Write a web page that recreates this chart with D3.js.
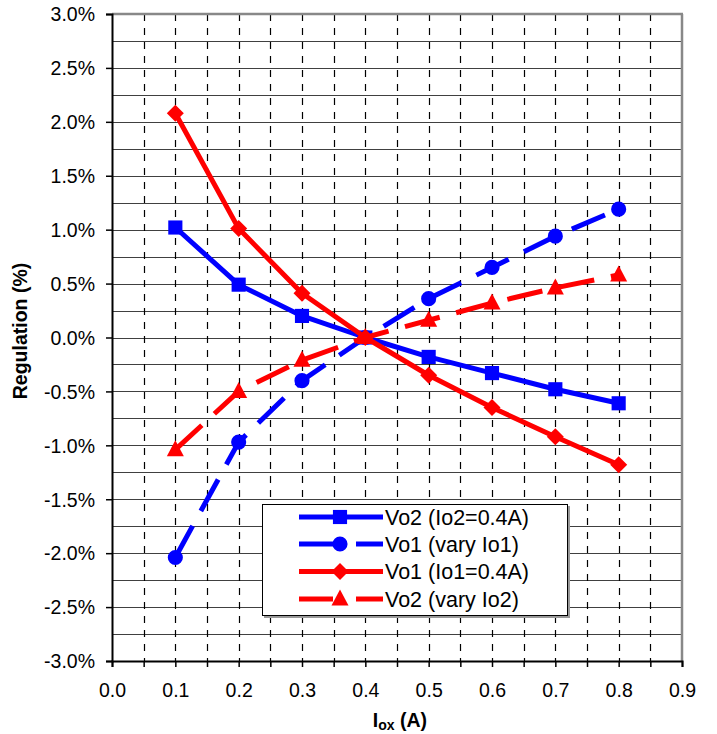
<!DOCTYPE html>
<html>
<head>
<meta charset="utf-8">
<script src="https://cdn.jsdelivr.net/npm/d3@7/dist/d3.min.js"></script>
<style>
  html, body { margin: 0; padding: 0; background: #fff; }
  svg { display: block; font-family: "Liberation Sans", Arial, sans-serif; }
</style>
</head>
<body>
<svg id="chart" width="717" height="734"></svg>
<script>
// Load current (A) on the x axis
const loadCurrents = [0.1, 0.2, 0.3, 0.4, 0.5, 0.6, 0.7, 0.8];

// Regulation (%) for each series
const vo2FixedIo2 = [1.02, 0.49, 0.20, 0.00, -0.18, -0.33, -0.48, -0.61];
const vo1VaryIo1  = [-2.04, -0.97, -0.40, 0.00, 0.36, 0.65, 0.94, 1.19];
const vo1FixedIo1 = [2.08, 1.01, 0.41, 0.00, -0.35, -0.65, -0.92, -1.18];
const vo2VaryIo2  = [-1.04, -0.50, -0.21, 0.00, 0.16, 0.32, 0.46, 0.58];

const seriesNames = ["Vo2 (Io2=0.4A)", "Vo1 (vary Io1)", "Vo1 (Io1=0.4A)", "Vo2 (vary Io2)"];

// Axis ticks
const xTickValues = [0, 0.1, 0.2, 0.3, 0.4, 0.5, 0.6, 0.7, 0.8, 0.9];
const xTickLabels = ["0.0", "0.1", "0.2", "0.3", "0.4", "0.5", "0.6", "0.7", "0.8", "0.9"];
const yTickValues = [3, 2.5, 2, 1.5, 1, 0.5, 0, -0.5, -1, -1.5, -2, -2.5, -3];
const yTickLabels = ["3.0%", "2.5%", "2.0%", "1.5%", "1.0%", "0.5%", "0.0%",
                     "-0.5%", "-1.0%", "-1.5%", "-2.0%", "-2.5%", "-3.0%"];

const series = [
  { name: seriesNames[0], values: vo2FixedIo2, color: "#0000ff", dashed: false, marker: "square" },
  { name: seriesNames[1], values: vo1VaryIo1,  color: "#0000ff", dashed: true,  marker: "circle" },
  { name: seriesNames[2], values: vo1FixedIo1, color: "#ff0000", dashed: false, marker: "diamond" },
  { name: seriesNames[3], values: vo2VaryIo2,  color: "#ff0000", dashed: true,  marker: "triangle" }
];

const plot = { left: 112, right: 682, top: 14, bottom: 661 };

const svg = d3.select("#chart");
const x = d3.scaleLinear().domain([0, 0.9]).range([plot.left, plot.right]);
const y = d3.scaleLinear().domain([-3, 3]).range([plot.bottom, plot.top]);

// Horizontal solid gridlines every 0.25 %
const hGrid = d3.range(-2.75, 3.01, 0.25);
svg.append("g").selectAll("line").data(hGrid).join("line")
  .attr("x1", plot.left).attr("x2", plot.right)
  .attr("y1", d => Math.round(y(d)) + 0.5).attr("y2", d => Math.round(y(d)) + 0.5)
  .attr("stroke", "#404040").attr("stroke-width", 1.2);

// Vertical dashed gridlines every 0.05 A
const vGrid = d3.range(1, 18).map(i => i * 0.05);
svg.append("g").selectAll("line").data(vGrid).join("line")
  .attr("x1", d => Math.round(x(d)) + 0.5).attr("x2", d => Math.round(x(d)) + 0.5)
  .attr("y1", plot.top).attr("y2", plot.bottom)
  .attr("stroke", "#000").attr("stroke-width", 1.2)
  .attr("stroke-dasharray", "7,7");

// Plot frame (top and right)
svg.append("line").attr("x1", plot.left).attr("x2", plot.right + 1)
  .attr("y1", plot.top).attr("y2", plot.top)
  .attr("stroke", "#888").attr("stroke-width", 2.5);
svg.append("line").attr("x1", plot.right).attr("x2", plot.right)
  .attr("y1", plot.top).attr("y2", plot.bottom)
  .attr("stroke", "#888").attr("stroke-width", 2.5);

// X axis
const xAxis = d3.axisBottom(x)
  .tickValues(d3.range(0, 19).map(i => i * 0.05))
  .tickSize(6)
  .tickFormat(d => {
    const i = xTickValues.findIndex(v => Math.abs(v - d) < 1e-9);
    return i >= 0 ? xTickLabels[i] : "";
  });
const gx = svg.append("g").attr("transform", `translate(0,${plot.bottom})`).call(xAxis);
gx.select(".domain").attr("stroke", "#000").attr("stroke-width", 2);
gx.selectAll(".tick line").attr("stroke", "#000").attr("stroke-width", 1.5);
gx.selectAll(".tick text")
  .attr("font-family", "Liberation Sans, Arial, sans-serif")
  .attr("font-size", 19.5).attr("fill", "#000").attr("dy", null).attr("y", 36);

// Y axis
const yAxis = d3.axisLeft(y)
  .tickValues(yTickValues)
  .tickSize(6)
  .tickFormat((d, i) => yTickLabels[i]);
const gy = svg.append("g").attr("transform", `translate(${plot.left},0)`).call(yAxis);
gy.select(".domain").attr("stroke", "#000").attr("stroke-width", 2);
gy.selectAll(".tick line").attr("stroke", "#000").attr("stroke-width", 1.5);
gy.selectAll(".tick text")
  .attr("font-family", "Liberation Sans, Arial, sans-serif")
  .attr("font-size", 19.5).attr("fill", "#000").attr("x", -17).attr("dy", "0.35em");

// Axis titles
svg.append("text")
  .attr("transform", `translate(27,331) rotate(-90)`)
  .attr("text-anchor", "middle")
  .attr("font-size", 19.5).attr("font-weight", "bold")
  .text("Regulation (%)");

const xt = svg.append("text")
  .attr("x", 400).attr("y", 727)
  .attr("text-anchor", "middle")
  .attr("font-size", 19.5).attr("font-weight", "bold");
xt.append("tspan").text("I");
xt.append("tspan").attr("font-size", 14).attr("dy", 3).text("ox");
xt.append("tspan").attr("dy", -3).text(" (A)");

// Marker shapes
function markerPath(type) {
  switch (type) {
    case "square": return d3.symbol(d3.symbolSquare, 200)();
    case "circle": return d3.symbol(d3.symbolCircle, 180)();
    case "diamond": return "M0,-8.5L8.5,0L0,8.5L-8.5,0Z";
    case "triangle": return "M0,-9.5L8.5,6.5L-8.5,6.5Z";
  }
}

const line = d3.line().x((d, i) => x(loadCurrents[i])).y(d => y(d));

series.forEach(s => {
  const g = svg.append("g");
  g.append("path")
    .attr("d", line(s.values))
    .attr("fill", "none")
    .attr("stroke", s.color)
    .attr("stroke-width", 5)
    .attr("stroke-linejoin", "round")
    .attr("stroke-dasharray", s.dashed ? "36,17" : null);
  g.selectAll("path.mk").data(s.values).join("path")
    .attr("class", "mk")
    .attr("d", markerPath(s.marker))
    .attr("transform", (d, i) => `translate(${x(loadCurrents[i])},${y(d)})`)
    .attr("fill", s.color);
});

// Legend
const legend = svg.append("g").attr("transform", "translate(262,504)");
legend.append("rect").attr("x", 2).attr("y", 2).attr("width", 306).attr("height", 112).attr("fill", "#999");
legend.append("rect").attr("x", 0.5).attr("y", 0.5).attr("width", 305).attr("height", 111)
  .attr("fill", "#fff").attr("stroke", "#000").attr("stroke-width", 1);

const rowY = [13, 40, 67.5, 95];
series.forEach((s, i) => {
  const r = legend.append("g").attr("transform", `translate(0,${rowY[i]})`);
  if (s.dashed) {
    r.append("line").attr("x1", 37).attr("x2", 71).attr("y1", 0).attr("y2", 0)
      .attr("stroke", s.color).attr("stroke-width", 5);
    r.append("line").attr("x1", 94).attr("x2", 121).attr("y1", 0).attr("y2", 0)
      .attr("stroke", s.color).attr("stroke-width", 5);
  } else {
    r.append("line").attr("x1", 37).attr("x2", 121).attr("y1", 0).attr("y2", 0)
      .attr("stroke", s.color).attr("stroke-width", 5);
  }
  r.append("path").attr("d", markerPath(s.marker))
    .attr("transform", "translate(78,0)").attr("fill", s.color);
  r.append("text").attr("x", 123).attr("y", 0).attr("dy", "0.36em")
    .attr("font-size", 21.5).attr("fill", "#000").text(s.name);
});
</script>
</body>
</html>
